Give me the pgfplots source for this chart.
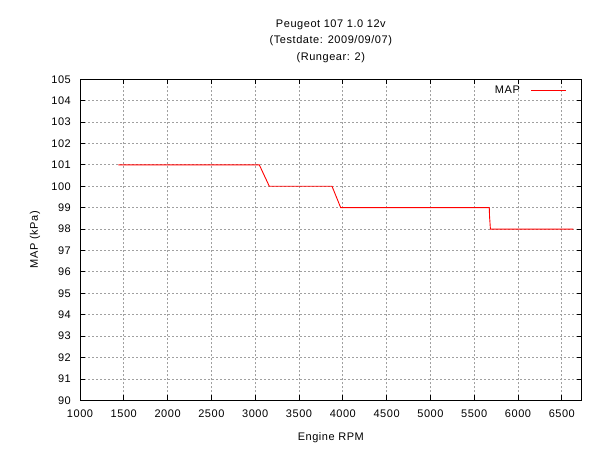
\documentclass[border=0pt]{standalone}
\usepackage{pgfplots}
\pgfplotsset{compat=1.18}
\usepackage{fontspec}
\setmainfont{Liberation Sans}[LetterSpace=5]
\definecolor{gridgray}{RGB}{160,160,160}
\begin{document}
\fontsize{11pt}{13pt}\selectfont
\begin{tikzpicture}
\path[use as bounding box, fill=white] (0,0) rectangle (600pt,450pt);
\begin{axis}[
  at={(80pt,49.7pt)}, anchor=south west,
  scale only axis,
  width=501.7pt, height=321pt,
  xmin=1000, xmax=6727,
  ymin=90, ymax=105,
  xtick={1000,1500,...,6500},
  ytick={90,91,...,105},
  /pgf/number format/assume math mode=true,
  /pgf/number format/1000 sep={},
  tick label style={font=\fontsize{11pt}{13pt}\selectfont},
  yticklabel style={inner sep=0pt, xshift=-9pt},
  xticklabel style={inner sep=0pt, yshift=-9pt},
  tick align=inside,
  major tick length=5pt,
  tick style={black, line width=0.8pt},
  axis line style={black, line width=0.9pt},
  grid=major,
  major grid style={gridgray, dash pattern=on 2pt off 2pt, line width=0.8pt},
  title={Peugeot 107 1.0 12v\\(Testdate: 2009/09/07)\\(Rungear: 2)},
  title style={at={(axis description cs:0.5,1)}, anchor=center, yshift=32pt, align=center, font=\fontsize{11pt}{16.8pt}\selectfont},
  xlabel={Engine RPM},
  ylabel={MAP (kPa)},
  xlabel style={at={(axis description cs:0.5,-0.117)}, anchor=center, font=\fontsize{11pt}{13pt}\selectfont},
  ylabel style={at={(axis description cs:-0.0897,0.5)}, anchor=center, font=\fontsize{11pt}{13pt}\selectfont},
  legend style={draw=none, fill=none, at={(axis description cs:0.9707,0.985)}, anchor=north east, inner sep=0pt, font=\fontsize{11pt}{13pt}\selectfont},
  legend plot pos=right,
  legend image code/.code={\draw[#1] (0pt,0pt) -- (35pt,0pt);},
]
\addplot[red, line width=0.9pt] coordinates {
(1437,101) (3047,101) (3161,100) (3877,100) (3976,99) (5672,99) (5675,98.6) (5685,98) (6631,98)
};
\addlegendentry{MAP\rule{9pt}{0pt}}
\end{axis}
\end{tikzpicture}
\end{document}
